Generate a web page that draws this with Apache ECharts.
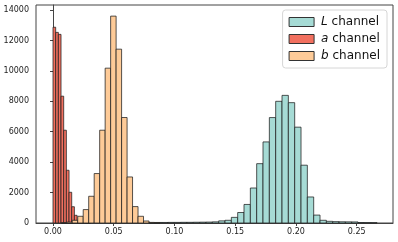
<!DOCTYPE html>
<html><head><meta charset="utf-8">
<script src="https://cdn.jsdelivr.net/npm/echarts@6/dist/echarts.min.js"></script>
<style>html,body{margin:0;padding:0;background:#fff}#c{width:398px;height:242px}</style>
</head><body><div id="c"></div>
<script>
const xTicks = [0, 0.05, 0.10, 0.15, 0.20, 0.25];
const yTicks = [0, 2000, 4000, 6000, 8000, 10000, 12000, 14000];
const seriesNames = ['L channel', 'a channel', 'b channel'];
const lBinStart = 0.07902, lBinWidth = 0.005215;
const lCounts = [30,35,35,40,40,45,45,50,55,60,75,140,178,370,690,1220,2300,3900,5330,6930,8000,8390,7910,6300,3800,1711,520,178,110,90,80,75,70,30,25,20];
const aBinStart = 0, aBinWidth = 0.0022;
const aCounts = [12870,12530,12400,8336,6099,3467,2020,1070,506,178,60,30,15,10];
const bBinStart = 0.0068, bBinWidth = 0.004515;
const bCounts = [20,60,178,441,882,1757,3250,6099,10178,13599,11427,6934,3026,1079,441,132,40,20];

const FONT = 'DejaVu Sans';
const colors = ['#a6dbd5', '#f2705f', '#fecb98'];
const edge = 'rgba(30,30,30,0.75)';

function histSeries(name, start, width, counts, fill) {
  const data = counts.map((c, i) => [start + i * width, start + (i + 1) * width, c]);
  return {
    name, type: 'custom',
    itemStyle: { color: fill, borderColor: '#333', borderWidth: 1 },
    encode: { x: [0, 1], y: 2 },
    data,
    renderItem: (params, api) => {
      const p0 = api.coord([api.value(0), api.value(2)]);
      const p1 = api.coord([api.value(1), 0]);
      return { type: 'rect',
        shape: { x: p0[0], y: p0[1], width: p1[0] - p0[0], height: p1[1] - p0[1] },
        style: { fill: fill, stroke: edge, lineWidth: 1 } };
    }
  };
}

const chart = echarts.init(document.getElementById('c'), null, { renderer: 'canvas' });
chart.setOption({
  animation: false,
  backgroundColor: '#fff',
  grid: { left: 36, right: 5, top: 5, bottom: 19, show: true, borderColor: '#444', borderWidth: 1, backgroundColor: 'transparent' },
  legend: {
    orient: 'vertical', right: 11, top: 10,
    padding: [6, 7, 6, 6], itemGap: 5, itemWidth: 25, itemHeight: 9,
    borderColor: '#d6d6d6', borderWidth: 1, borderRadius: 3, backgroundColor: 'rgba(255,255,255,0.85)',
    textStyle: { fontFamily: FONT, fontSize: 12, color: '#111', lineHeight: 12, padding: [0, 0, 0, 2],
      rich: { i: { fontStyle: 'italic', fontFamily: FONT, fontSize: 12, color: '#111' } } },
    formatter: n => '{i|' + n.charAt(0) + '}' + n.slice(1),
    data: seriesNames.map((n, i) => ({ name: n, icon: 'rect', itemStyle: { color: colors[i], borderColor: '#333', borderWidth: 1 } }))
  },
  xAxis: {
    type: 'value', min: -0.014, max: 0.2799,
    splitLine: { show: false },
    axisLine: { show: true, onZero: false, lineStyle: { color: '#444' } },
    axisTick: { show: true, length: 3, customValues: xTicks, lineStyle: { color: '#444' } },
    axisLabel: { customValues: xTicks, formatter: v => v.toFixed(2), fontFamily: FONT, fontSize: 8, margin: 5, color: '#222' }
  },
  yAxis: {
    type: 'value', min: 0, max: 14330,
    splitLine: { show: false },
    axisLine: { show: true, lineStyle: { color: '#444' } },
    axisTick: { show: true, length: 3, customValues: yTicks, lineStyle: { color: '#444' } },
    axisLabel: { customValues: yTicks, formatter: v => String(Math.round(v)), fontFamily: FONT, fontSize: 8, margin: 7, color: '#222' }
  },
  series: [
    histSeries(seriesNames[0], lBinStart, lBinWidth, lCounts, colors[0]),
    histSeries(seriesNames[1], aBinStart, aBinWidth, aCounts, colors[1]),
    histSeries(seriesNames[2], bBinStart, bBinWidth, bCounts, colors[2])
  ]
});
</script></body></html>
